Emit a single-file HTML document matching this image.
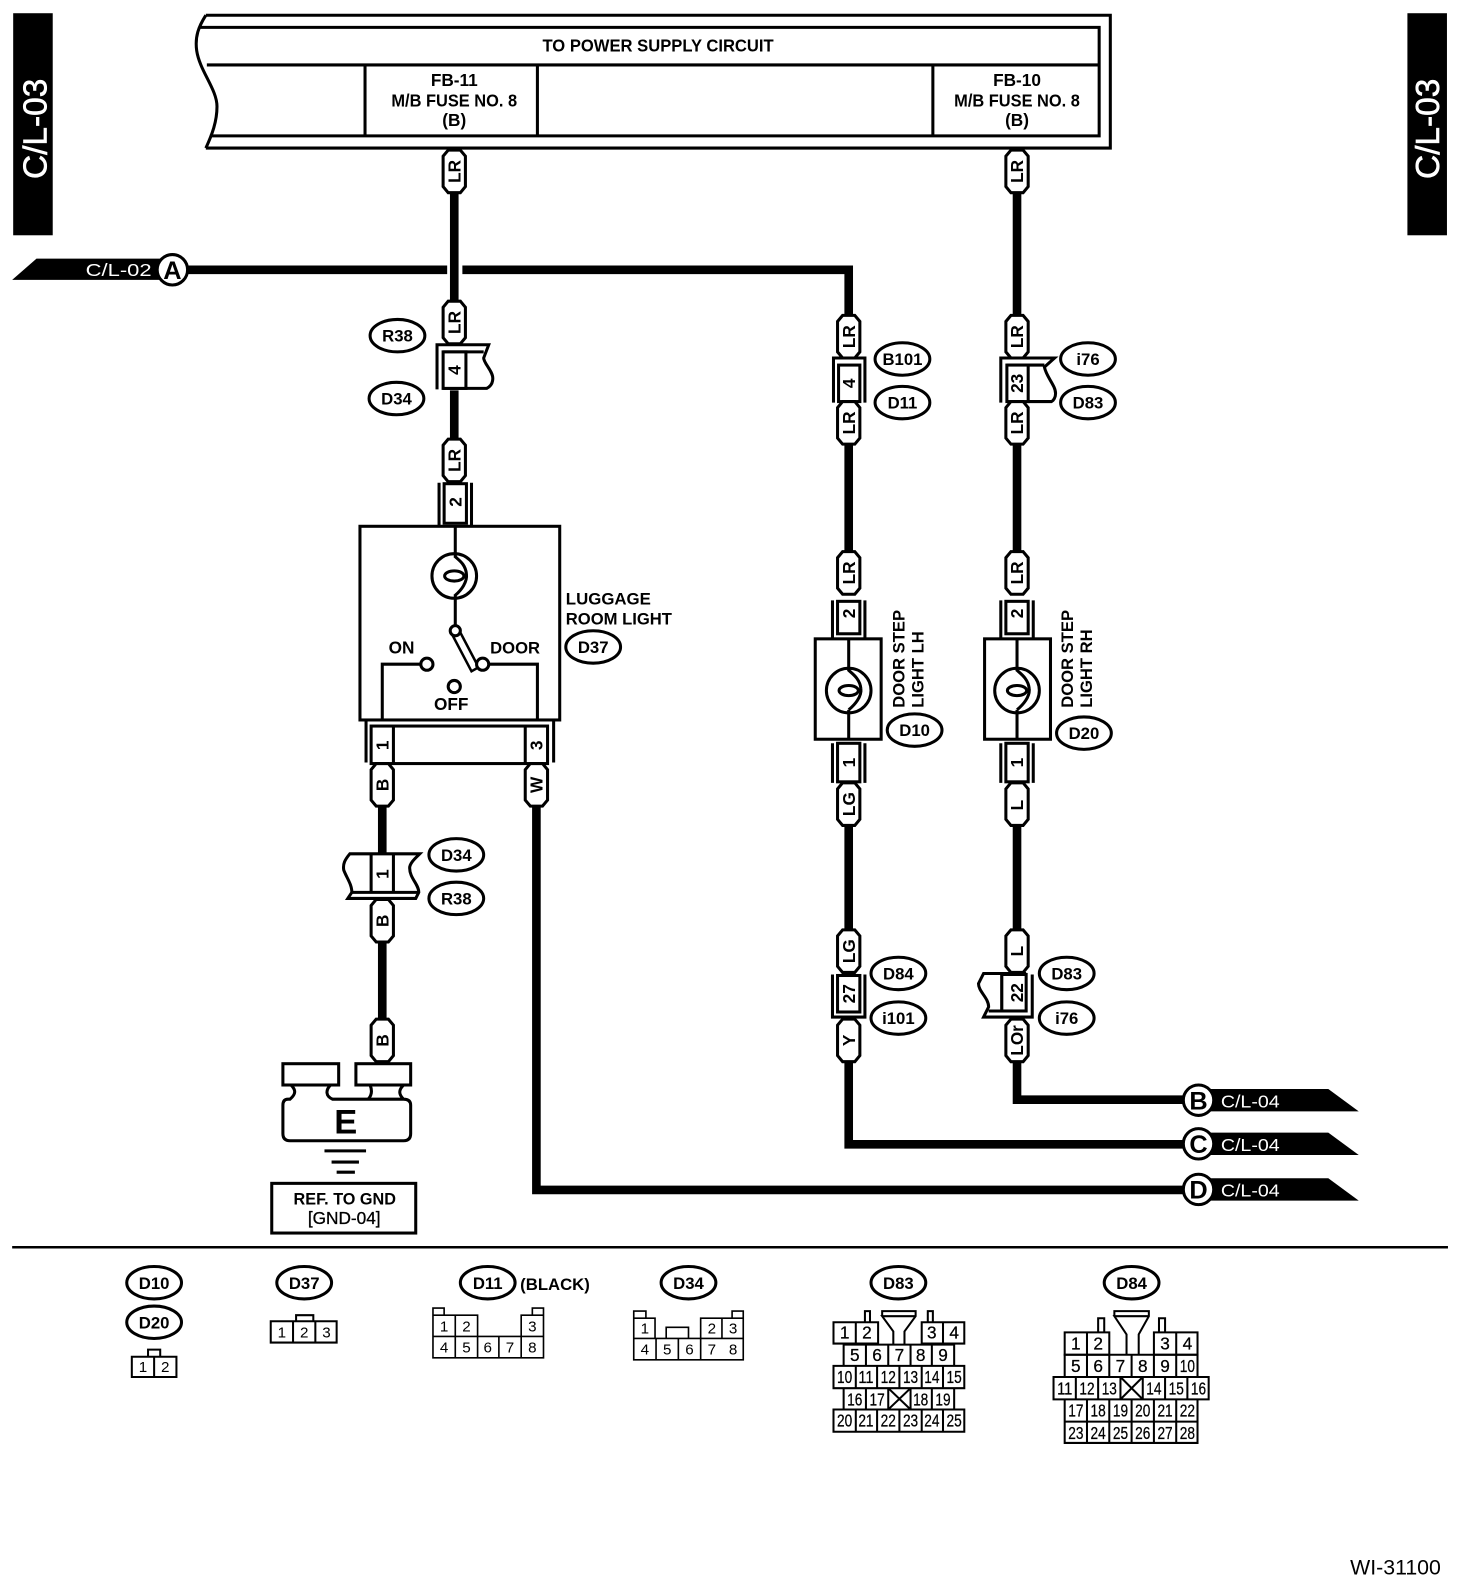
<!DOCTYPE html>
<html><head><meta charset="utf-8"><title>Wiring diagram</title>
<style>
html,body{margin:0;padding:0;background:#fff}
svg{display:block}
text{font-family:"Liberation Sans",sans-serif;font-weight:bold;fill:#000;text-anchor:middle}
.s{fill:none;stroke:#000;stroke-width:3}
.t{fill:none;stroke:#000;stroke-width:2}
.r{fill:#fff;stroke:#000;stroke-width:3}
.f{fill:#fff;stroke:#000;stroke-width:3}
.w{fill:none;stroke:#000;stroke-width:8.5;stroke-linejoin:miter}
.e ellipse{fill:#fff;stroke:#000;stroke-width:3;rx:27px;ry:16px}
.e text{font-size:16.5px}
.n text{font-size:15px;font-weight:normal}
.m text{font-size:17px;font-weight:normal;stroke:#000;stroke-width:.25}
.h text{font-size:17px}
.v text{font-size:17px}
</style></head><body>
<svg xmlns="http://www.w3.org/2000/svg" width="1472" height="1590" viewBox="0 0 1451.7 1568">
<defs>
<path id="p" d="M-6,0H6L11,6V36L6,42H-6L-11,36V6Z" fill="#fff" stroke="#000" stroke-width="3"/>
</defs>
<rect width="1452" height="1568" fill="#fff"/>

<!-- side blocks -->
<rect x="13" y="13" width="39" height="219" fill="#000"/>
<rect x="1388" y="13" width="39" height="219" fill="#000"/>
<text transform="translate(46,127) rotate(-90)" font-size="33" style="fill:#fff;stroke:#fff;stroke-width:.6;font-weight:normal">C/L-03</text>
<text transform="translate(1419,127) rotate(-90)" font-size="33" style="fill:#fff;stroke:#fff;stroke-width:.6;font-weight:normal">C/L-03</text>

<!-- top box -->
<path class="s" d="M203,15H1095V146H203"/>
<path class="s" d="M203,15C196,26 192,36 194,50C197,70 214,88 214,105C214,120 209,133 203,146"/>
<path class="s" d="M196,27H1084V134H207M204,64H1084M360,64V134M530,64V134M920,64V134"/>
<text x="649" y="51" font-size="17" textLength="228" lengthAdjust="spacingAndGlyphs">TO POWER SUPPLY CIRCUIT</text>
<g class="h">
<text x="448" y="85">FB-11</text>
<text x="448" y="105" textLength="124" lengthAdjust="spacingAndGlyphs">M/B FUSE NO. 8</text>
<text x="448" y="124">(B)</text>
<text x="1003" y="85">FB-10</text>
<text x="1003" y="105" textLength="124" lengthAdjust="spacingAndGlyphs">M/B FUSE NO. 8</text>
<text x="1003" y="124">(B)</text>
</g>

<!-- wires -->
<path class="w" d="M448,188V300M448,385V436"/>
<path class="w" d="M185,266H441M456,266H837V314"/>
<path class="w" d="M837,436V547M837,814V920M837,1045V1128.5H1170"/>
<path class="w" d="M1003,188V314M1003,436V547M1003,814V920M1003,1045V1084.5H1170"/>
<path class="w" d="M377,795V842M377,886V1008"/>
<path class="w" d="M529,795V1173.5H1170"/>

<!-- off-page tags -->
<polygon points="12,276 36,255 162,255 162,276" fill="#000"/>
<text x="117" y="272" font-size="17" textLength="65" lengthAdjust="spacingAndGlyphs" style="fill:#fff;font-weight:normal">C/L-02</text>
<circle class="f" cx="170" cy="266" r="15"/><text x="170" y="275" font-size="25">A</text>

<polygon points="1190,1074 1310,1074 1340,1096 1190,1096" fill="#000"/>
<polygon points="1190,1117 1310,1117 1340,1139 1190,1139" fill="#000"/>
<polygon points="1190,1162 1310,1162 1340,1184 1190,1184" fill="#000"/>
<circle class="f" cx="1182" cy="1085" r="15"/><text x="1182" y="1094" font-size="25">B</text>
<circle class="f" cx="1182" cy="1128" r="15"/><text x="1182" y="1137" font-size="25">C</text>
<circle class="f" cx="1182" cy="1173" r="15"/><text x="1182" y="1182" font-size="25">D</text>
<g font-size="17">
<text x="1233" y="1092" textLength="58" lengthAdjust="spacingAndGlyphs" style="fill:#fff;font-weight:normal">C/L-04</text>
<text x="1233" y="1135" textLength="58" lengthAdjust="spacingAndGlyphs" style="fill:#fff;font-weight:normal">C/L-04</text>
<text x="1233" y="1180" textLength="58" lengthAdjust="spacingAndGlyphs" style="fill:#fff;font-weight:normal">C/L-04</text>
</g>

<!-- connector R38/D34 -->
<path class="s" d="M431,384V340H482L477,353C477,358 486,366 486,373C486,378 484,381 480,383H437"/>
<path class="s" d="M437,347H477"/>
<rect class="r" x="437" y="347" width="22.5" height="36"/>
<!-- connector B101/D11 -->
<path class="s" d="M822,397V353H853V397"/>
<rect class="r" x="827" y="360" width="21" height="36"/>
<!-- connector i76/D83 -->
<path class="s" d="M987,397V353H1040L1030,362C1032,372 1041,380 1041,388C1041,392 1039,395 1037,396H993"/>
<path class="s" d="M993,360H1030"/>
<rect class="r" x="993" y="360" width="21" height="36"/>
<!-- connector 2 luggage -->
<path class="s" d="M433,476V519M465,476V519"/>
<rect class="r" x="438" y="477" width="22" height="39"/>

<!-- luggage light -->
<rect class="s" x="355" y="519" width="197" height="191"/>
<path class="s" d="M449,519V550M449,586V620"/>
<circle class="s" cx="448" cy="568" r="22"/>
<path class="s" d="M449,549C452,552 459,556 460,566C461,574 455,582 449,587"/>
<ellipse class="s" cx="448" cy="568" rx="9.5" ry="5"/>
<polygon class="f" style="stroke-width:2.5" points="445,624 452,620 472,658 465,662"/>
<circle class="f" cx="449" cy="622" r="5"/>
<circle class="f" cx="476" cy="655" r="6"/>
<circle class="f" cx="421" cy="655" r="6"/>
<circle class="f" cx="448" cy="677" r="6"/>
<path class="s" d="M482,655H530V710M415,655H377V710"/>
<text x="396" y="644.5" font-size="17">ON</text>
<text x="508" y="644.5" font-size="16.4">DOOR</text>
<text x="445" y="700" font-size="17">OFF</text>
<text x="558" y="596" font-size="16.6" style="text-anchor:start">LUGGAGE</text>
<text x="558" y="616" font-size="16.4" style="text-anchor:start">ROOM LIGHT</text>
<!-- bottom connector -->
<path class="s" d="M361,710V752M546,710V752"/>
<rect class="r" x="366" y="716" width="174" height="37"/>
<path class="s" d="M388,716V753M518,716V753"/>

<!-- door step lights -->
<g>
<rect class="s" x="804" y="630" width="65" height="99"/>
<path class="s" d="M837,630V662M837,700V729"/>
<circle class="s" cx="837" cy="681" r="22"/>
<path class="s" d="M837,661C840,664 848,669 849,679C850,687 843,695 837,700"/>
<ellipse class="s" cx="837" cy="681" rx="9.5" ry="5"/>
<path class="s" d="M821,592V630M853,592V630M821,733V772M853,733V772"/>
<rect class="r" x="826" y="593" width="22" height="32"/>
<rect class="r" x="826" y="733" width="22" height="38"/>
</g>
<g>
<rect class="s" x="971" y="630" width="65" height="99"/>
<path class="s" d="M1003,630V662M1003,700V729"/>
<circle class="s" cx="1003" cy="681" r="22"/>
<path class="s" d="M1003,661C1006,664 1014,669 1015,679C1016,687 1009,695 1003,700"/>
<ellipse class="s" cx="1003" cy="681" rx="9.5" ry="5"/>
<path class="s" d="M987,592V630M1019,592V630M987,733V772M1019,733V772"/>
<rect class="r" x="992" y="593" width="22" height="32"/>
<rect class="r" x="992" y="733" width="22" height="38"/>
</g>
<g font-size="16.4">
<text transform="translate(892,698) rotate(-90)" style="text-anchor:start">DOOR STEP</text>
<text transform="translate(911,698) rotate(-90)" style="text-anchor:start">LIGHT LH</text>
<text transform="translate(1058,698) rotate(-90)" style="text-anchor:start">DOOR STEP</text>
<text transform="translate(1077,698) rotate(-90)" style="text-anchor:start">LIGHT RH</text>
</g>

<!-- connector D34/R38 lower -->
<path class="f" d="M414,842H345C340,848 338,852 339,858C342,866 347,872 347,880L343,886H410L413,880C413,872 404,866 404,856C404,851 410,846 414,842Z"/>
<path class="s" d="M347,880H413"/>
<path class="s" d="M366,842V880M388,842V880"/>

<!-- connector D84/i101 -->
<path class="s" d="M821,961V1003H853V961"/>
<rect class="r" x="826" y="962" width="22" height="36"/>
<!-- connector D83/i76 -->
<path class="s" d="M1018,961V1003H970L975,993C975,984 965,978 965,970L970,960H1012"/>
<path class="s" d="M975,997H1012M988,960V997"/>
<rect class="r" x="988" y="961" width="24" height="36"/>

<!-- pills -->
<use href="#p" x="448" y="148"/><use href="#p" x="448" y="297"/><use href="#p" x="448" y="433"/>
<use href="#p" x="837" y="311"/><use href="#p" x="837" y="396"/><use href="#p" x="837" y="544"/><use href="#p" x="837" y="772"/><use href="#p" x="837" y="917"/><use href="#p" x="837" y="1005"/>
<use href="#p" x="1003" y="148"/><use href="#p" x="1003" y="311"/><use href="#p" x="1003" y="396"/><use href="#p" x="1003" y="544"/><use href="#p" x="1003" y="772"/><use href="#p" x="1003" y="917"/><use href="#p" x="1003" y="1005"/>
<use href="#p" x="377" y="753"/><use href="#p" x="377" y="887"/><use href="#p" x="377" y="1005"/>
<use href="#p" x="529" y="753"/>
<g class="v" transform="translate(1,0)">
<text transform="translate(453,169) rotate(-90)">LR</text>
<text transform="translate(453,318) rotate(-90)">LR</text>
<text transform="translate(453,454) rotate(-90)">LR</text>
<text transform="translate(842,332) rotate(-90)">LR</text>
<text transform="translate(842,417) rotate(-90)">LR</text>
<text transform="translate(842,565) rotate(-90)">LR</text>
<text transform="translate(842,793) rotate(-90)">LG</text>
<text transform="translate(842,938) rotate(-90)">LG</text>
<text transform="translate(842,1026) rotate(-90)">Y</text>
<text transform="translate(1008,169) rotate(-90)">LR</text>
<text transform="translate(1008,332) rotate(-90)">LR</text>
<text transform="translate(1008,417) rotate(-90)">LR</text>
<text transform="translate(1008,565) rotate(-90)">LR</text>
<text transform="translate(1008,794) rotate(-90)">L</text>
<text transform="translate(1008,938) rotate(-90)">L</text>
<text transform="translate(1008,1026) rotate(-90)" textLength="30" lengthAdjust="spacingAndGlyphs">LOr</text>
<text transform="translate(382,774) rotate(-90)">B</text>
<text transform="translate(382,908) rotate(-90)">B</text>
<text transform="translate(382,1026) rotate(-90)">B</text>
<text transform="translate(534,774) rotate(-90)">W</text>
<text transform="translate(453,365) rotate(-90)">4</text>
<text transform="translate(842,378) rotate(-90)">4</text>
<text transform="translate(1008,378) rotate(-90)">23</text>
<text transform="translate(454,495) rotate(-90)">2</text>
<text transform="translate(842,605) rotate(-90)">2</text>
<text transform="translate(1008,605) rotate(-90)">2</text>
<text transform="translate(842,752) rotate(-90)">1</text>
<text transform="translate(1008,752) rotate(-90)">1</text>
<text transform="translate(382,735) rotate(-90)">1</text>
<text transform="translate(534,735) rotate(-90)">3</text>
<text transform="translate(382,862) rotate(-90)">1</text>
<text transform="translate(842,980) rotate(-90)">27</text>
<text transform="translate(1008,979) rotate(-90)">22</text>
</g>

<!-- ellipse labels -->
<g class="e">
<ellipse cx="392" cy="331"/><text x="392" y="337">R38</text>
<ellipse cx="391" cy="393"/><text x="391" y="399">D34</text>
<ellipse cx="890" cy="354"/><text x="890" y="360">B101</text>
<ellipse cx="890" cy="397"/><text x="890" y="403">D11</text>
<ellipse cx="1073" cy="354"/><text x="1073" y="360">i76</text>
<ellipse cx="1073" cy="397"/><text x="1073" y="403">D83</text>
<ellipse cx="585" cy="638"/><text x="585" y="644">D37</text>
<ellipse cx="902" cy="720"/><text x="902" y="726">D10</text>
<ellipse cx="1069" cy="723"/><text x="1069" y="729">D20</text>
<ellipse cx="450" cy="843"/><text x="450" y="849">D34</text>
<ellipse cx="450" cy="886"/><text x="450" y="892">R38</text>
<ellipse cx="886" cy="960"/><text x="886" y="966">D84</text>
<ellipse cx="886" cy="1004"/><text x="886" y="1010">i101</text>
<ellipse cx="1052" cy="960"/><text x="1052" y="966">D83</text>
<ellipse cx="1052" cy="1004"/><text x="1052" y="1010">i76</text>
<ellipse cx="152" cy="1265"/><text x="152" y="1271">D10</text>
<ellipse cx="152" cy="1304"/><text x="152" y="1310">D20</text>
<ellipse cx="300" cy="1265"/><text x="300" y="1271">D37</text>
<ellipse cx="481" cy="1265"/><text x="481" y="1271">D11</text>
<ellipse cx="679" cy="1265"/><text x="679" y="1271">D34</text>
<ellipse cx="886" cy="1265"/><text x="886" y="1271">D83</text>
<ellipse cx="1116" cy="1265"/><text x="1116" y="1271">D84</text>
</g>
<text x="513" y="1272" font-size="16.5" style="text-anchor:start">(BLACK)</text>

<!-- ground -->
<rect class="s" x="279" y="1049" width="55" height="21"/>
<rect class="s" x="351" y="1049" width="54" height="21"/>
<path class="s" d="M287,1070C292,1075 292,1079 286,1084H284Q279,1084 279,1090V1118Q279,1125 286,1125H398Q405,1125 405,1118V1090Q405,1084 398,1084C393,1079 393,1075 398,1070M326,1070C321,1075 321,1081 328,1084H398M365,1070C367,1075 367,1080 363,1084"/>
<text x="341" y="1118" font-size="34">E</text>
<path class="s" d="M320,1135H361M327,1146H354M332,1156H350"/>
<rect class="s" x="268" y="1167" width="142" height="49"/>
<text x="340" y="1188" font-size="16.5" textLength="101" lengthAdjust="spacingAndGlyphs">REF. TO GND</text>
<text x="339.5" y="1207" font-size="17" style="font-weight:normal;stroke:#000;stroke-width:.3">[GND-04]</text>

<!-- divider -->
<path d="M12,1230H1428" stroke="#000" stroke-width="2.5"/>
<text x="1421" y="1553" font-size="21" style="text-anchor:end;font-weight:normal">WI-31100</text>

<!-- pin diagrams -->
<path class="t" d="M130,1338H174V1358H130ZM152,1338V1358M146,1338V1331H158V1338"/>
<path class="t" d="M267,1303H332V1324H267ZM289,1303V1324M311,1303V1324M292,1303V1297H309V1303"/>
<path class="t" style="stroke-width:1.6" d="M427,1297H471V1318H427ZM449,1297V1339M514,1297H536V1318H514ZM427,1318H536V1339H427ZM471,1318V1339M492,1318V1339M514,1318V1339M427,1297V1290H438V1297M525,1297V1290H536V1297"/>
<path class="t" style="stroke-width:1.6" d="M625,1300H646V1320H625ZM691,1300H733V1320H691ZM712,1300V1320M625,1320H733V1341H625ZM647,1320V1341M669,1320V1341M691,1320V1341M625,1300V1293H637V1300M722,1300V1293H733V1300M657,1320V1309H679V1320"/>
<path class="t" d="M822,1304H866V1325H822ZM844,1304V1325M909,1304H951V1325H909ZM930,1304V1325M853,1304V1293H858V1304M915,1304V1293H920V1304M870,1298V1293H903V1298L892,1313V1326M881,1326V1313L870,1298H903"/>
<path class="t" d="M832,1326H941V1347H832ZM854,1326V1347M876,1326V1347M898,1326V1347M919,1326V1347M822,1347H951V1369H822ZM844,1347V1369M865,1347V1369M887,1347V1369M909,1347V1369M930,1347V1369M832,1369H941V1390H832ZM854,1369V1390M876,1369V1390M898,1369V1390M919,1369V1390M876,1369L898,1390M898,1369L876,1390M822,1390H951V1412H822ZM844,1390V1412M865,1390V1412M887,1390V1412M909,1390V1412M930,1390V1412"/>
<path class="t" d="M1050,1314H1094V1336H1050ZM1072,1314V1336M1138,1314H1181V1336H1138ZM1160,1314V1336M1083,1314V1300H1089V1314M1143,1314V1300H1149V1314M1099,1298V1293H1133V1298L1123,1316V1336M1111,1336V1316L1099,1298H1133"/>
<path class="t" d="M1050,1336H1181V1358H1050ZM1072,1336V1358M1094,1336V1358M1116,1336V1358M1138,1336V1358M1160,1336V1358M1039,1358H1192V1380H1039ZM1061,1358V1380M1083,1358V1380M1105,1358V1380M1127,1358V1380M1149,1358V1380M1171,1358V1380M1105,1358L1127,1380M1127,1358L1105,1380M1050,1380H1181V1423H1050ZM1072,1380V1423M1094,1380V1423M1116,1380V1423M1138,1380V1423M1160,1380V1423M1050,1402H1181"/>

<g class="n">
<text x="141" y="1353">1</text><text x="163" y="1353">2</text>
<text x="278" y="1319">1</text><text x="300" y="1319">2</text><text x="322" y="1319">3</text>
<text x="438" y="1313">1</text><text x="460" y="1313">2</text><text x="525" y="1313">3</text>
<text x="438" y="1334">4</text><text x="460" y="1334">5</text><text x="481" y="1334">6</text><text x="503" y="1334">7</text><text x="525" y="1334">8</text>
<text x="636" y="1315">1</text><text x="702" y="1315">2</text><text x="723" y="1315">3</text>
<text x="636" y="1336">4</text><text x="658" y="1336">5</text><text x="680" y="1336">6</text><text x="702" y="1336">7</text><text x="723" y="1336">8</text>
</g>
<g class="m">
<text x="833" y="1320">1</text><text x="855" y="1320">2</text><text x="919" y="1320">3</text><text x="941" y="1320">4</text>
<text x="843" y="1342">5</text><text x="865" y="1342">6</text><text x="887" y="1342">7</text><text x="908" y="1342">8</text><text x="930" y="1342">9</text>
<text x="833" y="1364" textLength="15" lengthAdjust="spacingAndGlyphs">10</text><text x="854" y="1364" textLength="15" lengthAdjust="spacingAndGlyphs">11</text><text x="876" y="1364" textLength="15" lengthAdjust="spacingAndGlyphs">12</text><text x="898" y="1364" textLength="15" lengthAdjust="spacingAndGlyphs">13</text><text x="919" y="1364" textLength="15" lengthAdjust="spacingAndGlyphs">14</text><text x="941" y="1364" textLength="15" lengthAdjust="spacingAndGlyphs">15</text>
<text x="843" y="1386" textLength="15" lengthAdjust="spacingAndGlyphs">16</text><text x="865" y="1386" textLength="15" lengthAdjust="spacingAndGlyphs">17</text><text x="908" y="1386" textLength="15" lengthAdjust="spacingAndGlyphs">18</text><text x="930" y="1386" textLength="15" lengthAdjust="spacingAndGlyphs">19</text>
<text x="833" y="1407" textLength="15" lengthAdjust="spacingAndGlyphs">20</text><text x="854" y="1407" textLength="15" lengthAdjust="spacingAndGlyphs">21</text><text x="876" y="1407" textLength="15" lengthAdjust="spacingAndGlyphs">22</text><text x="898" y="1407" textLength="15" lengthAdjust="spacingAndGlyphs">23</text><text x="919" y="1407" textLength="15" lengthAdjust="spacingAndGlyphs">24</text><text x="941" y="1407" textLength="15" lengthAdjust="spacingAndGlyphs">25</text>
<text x="1061" y="1331">1</text><text x="1083" y="1331">2</text><text x="1149" y="1331">3</text><text x="1171" y="1331">4</text>
<text x="1061" y="1353">5</text><text x="1083" y="1353">6</text><text x="1105" y="1353">7</text><text x="1127" y="1353">8</text><text x="1149" y="1353">9</text><text x="1171" y="1353" textLength="15" lengthAdjust="spacingAndGlyphs">10</text>
<text x="1050" y="1375" textLength="15" lengthAdjust="spacingAndGlyphs">11</text><text x="1072" y="1375" textLength="15" lengthAdjust="spacingAndGlyphs">12</text><text x="1094" y="1375" textLength="15" lengthAdjust="spacingAndGlyphs">13</text><text x="1138" y="1375" textLength="15" lengthAdjust="spacingAndGlyphs">14</text><text x="1160" y="1375" textLength="15" lengthAdjust="spacingAndGlyphs">15</text><text x="1182" y="1375" textLength="15" lengthAdjust="spacingAndGlyphs">16</text>
<text x="1061" y="1397" textLength="15" lengthAdjust="spacingAndGlyphs">17</text><text x="1083" y="1397" textLength="15" lengthAdjust="spacingAndGlyphs">18</text><text x="1105" y="1397" textLength="15" lengthAdjust="spacingAndGlyphs">19</text><text x="1127" y="1397" textLength="15" lengthAdjust="spacingAndGlyphs">20</text><text x="1149" y="1397" textLength="15" lengthAdjust="spacingAndGlyphs">21</text><text x="1171" y="1397" textLength="15" lengthAdjust="spacingAndGlyphs">22</text>
<text x="1061" y="1419" textLength="15" lengthAdjust="spacingAndGlyphs">23</text><text x="1083" y="1419" textLength="15" lengthAdjust="spacingAndGlyphs">24</text><text x="1105" y="1419" textLength="15" lengthAdjust="spacingAndGlyphs">25</text><text x="1127" y="1419" textLength="15" lengthAdjust="spacingAndGlyphs">26</text><text x="1149" y="1419" textLength="15" lengthAdjust="spacingAndGlyphs">27</text><text x="1171" y="1419" textLength="15" lengthAdjust="spacingAndGlyphs">28</text>
</g>
</svg>
</body></html>
